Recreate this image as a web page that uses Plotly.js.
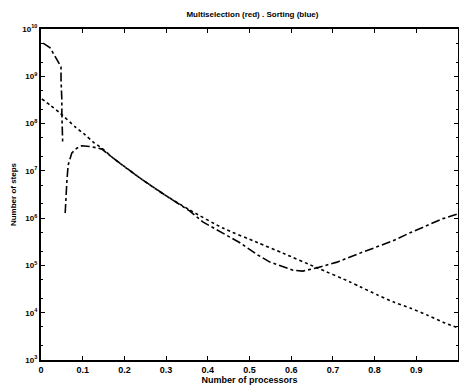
<!DOCTYPE html>
<html><head><meta charset="utf-8">
<script src="https://cdn.plot.ly/plotly-3.0.1.min.js"></script>
<style>html,body{margin:0;padding:0;background:#fff}</style>
</head><body><div id="chart" style="width:459px;height:387px"></div>
<script>
// Sorting curve (x = fraction of processors, log10 of number of steps)
var sortX = [0.002, 0.022, 0.046, 0.082, 0.106, 0.125, 0.146, 0.173, 0.237, 0.297, 0.357, 0.436, 0.520, 0.580, 0.662, 0.741, 0.765, 0.806, 0.844, 0.885, 0.926, 0.964, 1.0];
var sortLogY = [8.52, 8.39, 8.22, 7.93, 7.76, 7.61, 7.48, 7.27, 6.85, 6.49, 6.17, 5.79, 5.48, 5.26, 4.95, 4.65, 4.55, 4.38, 4.23, 4.10, 3.95, 3.80, 3.68];
// Multiselection curve (null = not defined on the log scale)
var multX = [0.005, 0.022, 0.048, 0.048, 0.050, 0.050, 0.052, 0.054, 0.058, 0.060, 0.062, 0.065, 0.074, 0.086, 0.098, 0.122, 0.134, 0.146, 0.173, 0.237, 0.297, 0.357, 0.388, 0.422, 0.477, 0.520, 0.549, 0.604, 0.628, 0.662, 0.710, 0.765, 0.806, 0.844, 0.885, 0.926, 0.964, 1.0];
var multLogY = [9.70, 9.60, 9.20, 8.92, 8.50, 8.22, 7.59, null, 6.11, 6.53, 6.77, 7.12, 7.38, 7.48, 7.53, 7.51, 7.48, 7.46, 7.27, 6.85, 6.49, 6.15, 5.92, 5.75, 5.48, 5.22, 5.07, 4.90, 4.88, 4.95, 5.07, 5.26, 5.39, 5.52, 5.69, 5.84, 5.99, 6.09];
var xTicks = [0, 0.1, 0.2, 0.3, 0.4, 0.5, 0.6, 0.7, 0.8, 0.9];
var yTicks = [1e3, 1e4, 1e5, 1e6, 1e7, 1e8, 1e9, 1e10];
var yTickText = ['10<sup>3</sup>','10<sup>4</sup>','10<sup>5</sup>','10<sup>6</sup>','10<sup>7</sup>','10<sup>8</sup>','10<sup>9</sup>','10<sup>10</sup>'];

function pow10(a){return a.map(function(v){return v===null?null:Math.pow(10,v);});}

var traces = [
  {x: sortX, y: pow10(sortLogY), type:'scatter', mode:'lines', line:{color:'#000', width:1.6, dash:'dot', shape:'spline', smoothing:0.6}, hoverinfo:'skip'},
  {x: multX, y: pow10(multLogY), type:'scatter', mode:'lines', connectgaps:false, line:{color:'#000', width:1.6, dash:'dashdot'}, hoverinfo:'skip'}
];
var F = 'Liberation Sans, Arial, sans-serif';
var layout = {
  width:459, height:387,
  margin:{l:41, r:1, t:29, b:27},
  paper_bgcolor:'#fff', plot_bgcolor:'#fff',
  showlegend:false,
  title:{text:'<b>Multiselection (red) . Sorting (blue)</b>', font:{family:F, size:8, color:'#000'}, x:0.55, xanchor:'center', y:0.963, yanchor:'middle'},
  xaxis:{range:[0,1], tickvals:xTicks, ticktext:xTicks.map(function(v){return '<b>'+v+'</b>';}),
    ticks:'inside', ticklen:4, tickcolor:'#000', showline:true, linecolor:'#000', linewidth:2, mirror:'ticks',
    showgrid:false, zeroline:false, tickfont:{family:F, size:9, color:'#000'},
    title:{text:'<b>Number of processors</b>', font:{family:F, size:9, color:'#000'}, standoff:2}},
  yaxis:{type:'log', range:[3,10], tickvals:yTicks, ticktext:yTickText.map(function(t){return '<b>'+t+'</b>';}),
    ticks:'inside', ticklen:4, tickcolor:'#000', showline:true, linecolor:'#000', linewidth:2, mirror:'ticks',
    minor:{ticks:'inside', ticklen:2, tickcolor:'#000', showgrid:false},
    showgrid:false, zeroline:false, tickfont:{family:F, size:8, color:'#000'},
    title:{text:'<b>Number of steps</b>', font:{family:F, size:8, color:'#000'}, standoff:4}}
};
Plotly.newPlot('chart', traces, layout, {staticPlot:true, displayModeBar:false});
</script></body></html>
